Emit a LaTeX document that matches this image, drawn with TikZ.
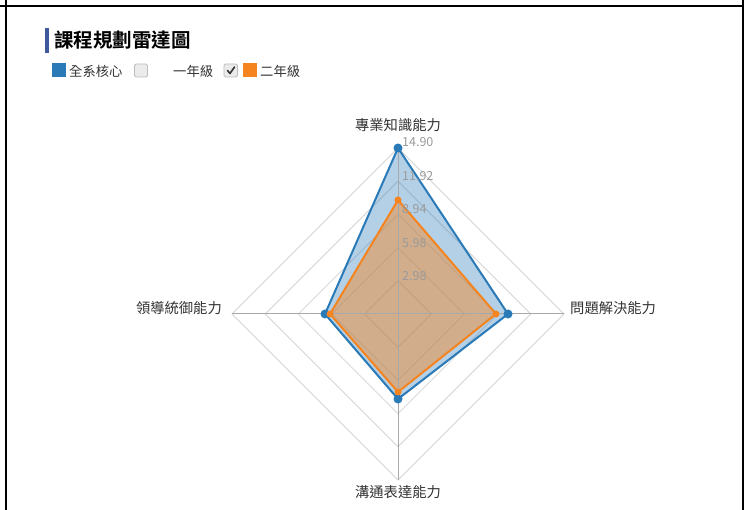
\documentclass[tikz,border=0pt]{standalone}
\usepackage{fontspec}
\newfontfamily\cjk{Noto Sans CJK TC}
\newfontfamily\cjkb{Noto Sans CJK TC Bold}
\definecolor{serblue}{HTML}{2A7AB8}
\definecolor{serorange}{HTML}{F5841F}
\definecolor{gridgray}{HTML}{D4D4D4}
\definecolor{axisgray}{HTML}{A8A8A8}
\definecolor{ticktext}{HTML}{9A9A9A}
\definecolor{titlebar}{HTML}{3F5A9A}
\definecolor{boxgray}{HTML}{BDBDBD}
\definecolor{boxfill}{HTML}{EBEBEB}
\tikzset{
  border/.style={black, line width=2pt},
  thinborder/.style={black, line width=1.3pt},
  ring/.style={gridgray, line width=0.8pt},
  axisline/.style={axisgray, line width=1pt},
  axlabel/.style={font=\cjk\fontsize{14.3}{16}\selectfont, text=black!80, inner sep=0pt},
  ticklabel/.style={font=\cjk\fontsize{12.5}{14}\selectfont, text=ticktext, inner sep=0pt, anchor=west},
  legtext/.style={font=\cjk\fontsize{13.3}{15}\selectfont, text=black!80, inner sep=0pt, anchor=west},
  bluearea/.style={fill=serblue, fill opacity=0.35},
  orangearea/.style={fill=serorange, fill opacity=0.45},
  bluedot/.style={circle, fill=serblue, inner sep=0pt, minimum size=9pt},
  orangedot/.style={circle, fill=serorange, inner sep=0pt, minimum size=7pt},
  chkbox/.style={draw=boxgray, fill=boxfill, rounded corners=1.5pt, line width=0.8pt},
}
\begin{document}
\begin{tikzpicture}[x=1pt,y=-1pt]
\useasboundingbox (0,0) rectangle (750,510);
\fill[white] (0,0) rectangle (750,510);
% borders
\draw[thinborder] (0,6) -- (743,6);
\draw[border] (0,6) -- (30,6);
\draw[border] (718,6) -- (743,6);
\draw[border] (6,0) -- (6,510);
\draw[border] (743,0) -- (743,510);
% title
\fill[titlebar] (44.5,28) rectangle (48.5,53);
\node[font=\cjkb\fontsize{19.5}{22}\selectfont, anchor=west, inner sep=0pt] (title) at (54,40.5) {課程規劃雷達圖};
% legend
\fill[serblue] (52,63.5) rectangle (66,77.5);
\node[legtext] (leg1) at (69,71) {全系核心};
\draw[chkbox] (134.5,64) rectangle (147.5,77);
\node[legtext] (leg2) at (173,71) {一年級};
\draw[chkbox] (224,64) rectangle (237.5,77);
\draw[black!80, line width=1.6pt, line cap=round, line join=round] (227.5,70.5) -- (230,73.5) -- (234.5,67);
\fill[serorange] (243,63.5) rectangle (257,77.5);
\node[legtext] (leg3) at (260,71) {二年級};
% radar grid
\coordinate (C) at (398,314);
\foreach \r in {33.2,66.4,99.6,132.8,166} {
  \draw[ring] (398,314-\r) -- (398+\r,314) -- (398,314+\r) -- (398-\r,314) -- cycle;
}
% series
\coordinate (bT) at (398,148);
\coordinate (bR) at (508,314);
\coordinate (bB) at (398,399);
\coordinate (bL) at (325,314);
\coordinate (oT) at (398,200);
\coordinate (oR) at (496,314);
\coordinate (oB) at (398,392);
\coordinate (oL) at (330,314);
\path[bluearea] (bT) -- (bR) -- (bB) -- (bL) -- cycle;
\path[orangearea] (oT) -- (oR) -- (oB) -- (oL) -- cycle;
% axes
\coordinate (aT) at (398,148);
\coordinate (aR) at (564,314);
\coordinate (aB) at (398,480);
\coordinate (aL) at (232,314);
\draw[axisline] (aT) -- (aB);
\draw[axisline] (aL) -- (aR);
\draw[serblue, line width=2pt, line join=round] (bT) -- (bR) -- (bB) -- (bL) -- cycle;
\draw[serorange, line width=2pt, line join=round] (oT) -- (oR) -- (oB) -- (oL) -- cycle;
\foreach \p in {bT,bR,bB,bL} \node[bluedot] at (\p) {};
\foreach \p in {oT,oR,oB,oL} \node[orangedot] at (\p) {};
% tick labels
\node[ticklabel] (t1) at (402,142.5) {14.90};
\node[ticklabel] (t2) at (402,176.5) {11.92};
\node[ticklabel] (t3) at (402,209.5) {8.94};
\node[ticklabel] (t4) at (402,243) {5.98};
\node[ticklabel] (t5) at (402,276.5) {2.98};
% axis labels
\node[axlabel] (lT) at (398,125) {專業知識能力};
\node[axlabel, anchor=west] (lR) at (570,308.5) {問題解決能力};
\node[axlabel, anchor=east] (lL) at (222,308.5) {領導統御能力};
\node[axlabel] (lB) at (398,492) {溝通表達能力};
\end{tikzpicture}
\end{document}
